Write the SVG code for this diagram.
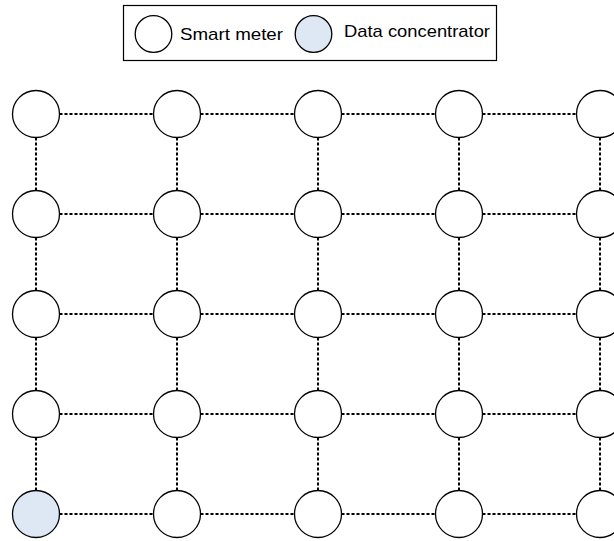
<svg xmlns="http://www.w3.org/2000/svg" width="614" height="541" viewBox="0 0 614 541">
  <style>
    .node { fill: #ffffff; stroke: #000000; stroke-width: 1.3; }
    .hub { fill: #dee8f5; stroke: #000000; stroke-width: 1.3; }
    .link { stroke: #000000; stroke-width: 2; stroke-dasharray: 3 2; fill: none; }
    .label { font-family: "Liberation Sans", Arial, sans-serif; font-size: 17px; fill: #000000; }
  </style>
  <defs>
    <circle id="meter" r="23.5" class="node"/>
    <circle id="conc" r="23.5" class="hub"/>
  </defs>
  <rect width="614" height="541" fill="#ffffff"/>

  <!-- legend -->
  <g id="legend">
    <rect x="123.5" y="5.5" width="373" height="55" fill="#ffffff" stroke="#000000" stroke-width="1.2"/>
    <circle cx="153.5" cy="34" r="18.3" class="node"/>
    <text class="label" x="180" y="40" textLength="103" lengthAdjust="spacingAndGlyphs">Smart meter</text>
    <circle cx="313.5" cy="34" r="18.3" class="hub"/>
    <text class="label" x="344" y="37" textLength="146" lengthAdjust="spacingAndGlyphs">Data concentrator</text>
  </g>

  <!-- dashed links between neighbouring meters -->
  <g id="connectors" class="link">
    <!-- horizontal -->
    <path d="M59.5 114H153.5M200.5 114H294.5M341.5 114H435.5M482.5 114H576.5"/>
    <path d="M59.5 214H153.5M200.5 214H294.5M341.5 214H435.5M482.5 214H576.5"/>
    <path d="M59.5 314H153.5M200.5 314H294.5M341.5 314H435.5M482.5 314H576.5"/>
    <path d="M59.5 414H153.5M200.5 414H294.5M341.5 414H435.5M482.5 414H576.5"/>
    <path d="M59.5 514H153.5M200.5 514H294.5M341.5 514H435.5M482.5 514H576.5"/>
    <!-- vertical -->
    <path d="M36 137.5V190.5M36 237.5V290.5M36 337.5V390.5M36 437.5V490.5"/>
    <path d="M177 137.5V190.5M177 237.5V290.5M177 337.5V390.5M177 437.5V490.5"/>
    <path d="M318 137.5V190.5M318 237.5V290.5M318 337.5V390.5M318 437.5V490.5"/>
    <path d="M459 137.5V190.5M459 237.5V290.5M459 337.5V390.5M459 437.5V490.5"/>
    <path d="M600 137.5V190.5M600 237.5V290.5M600 337.5V390.5M600 437.5V490.5"/>
  </g>

  <!-- row 1 -->
  <g id="m-1-1"><use href="#meter" x="36" y="114"/></g>
  <g id="m-1-2"><use href="#meter" x="177" y="114"/></g>
  <g id="m-1-3"><use href="#meter" x="318" y="114"/></g>
  <g id="m-1-4"><use href="#meter" x="459" y="114"/></g>
  <g id="m-1-5"><use href="#meter" x="600" y="114"/></g>
  <!-- row 2 -->
  <g id="m-2-1"><use href="#meter" x="36" y="214"/></g>
  <g id="m-2-2"><use href="#meter" x="177" y="214"/></g>
  <g id="m-2-3"><use href="#meter" x="318" y="214"/></g>
  <g id="m-2-4"><use href="#meter" x="459" y="214"/></g>
  <g id="m-2-5"><use href="#meter" x="600" y="214"/></g>
  <!-- row 3 -->
  <g id="m-3-1"><use href="#meter" x="36" y="314"/></g>
  <g id="m-3-2"><use href="#meter" x="177" y="314"/></g>
  <g id="m-3-3"><use href="#meter" x="318" y="314"/></g>
  <g id="m-3-4"><use href="#meter" x="459" y="314"/></g>
  <g id="m-3-5"><use href="#meter" x="600" y="314"/></g>
  <!-- row 4 -->
  <g id="m-4-1"><use href="#meter" x="36" y="414"/></g>
  <g id="m-4-2"><use href="#meter" x="177" y="414"/></g>
  <g id="m-4-3"><use href="#meter" x="318" y="414"/></g>
  <g id="m-4-4"><use href="#meter" x="459" y="414"/></g>
  <g id="m-4-5"><use href="#meter" x="600" y="414"/></g>
  <!-- row 5, concentrator in the corner -->
  <g id="concentrator"><use href="#conc" x="36" y="514"/></g>
  <g id="m-5-2"><use href="#meter" x="177" y="514"/></g>
  <g id="m-5-3"><use href="#meter" x="318" y="514"/></g>
  <g id="m-5-4"><use href="#meter" x="459" y="514"/></g>
  <g id="m-5-5"><use href="#meter" x="600" y="514"/></g>
</svg>
